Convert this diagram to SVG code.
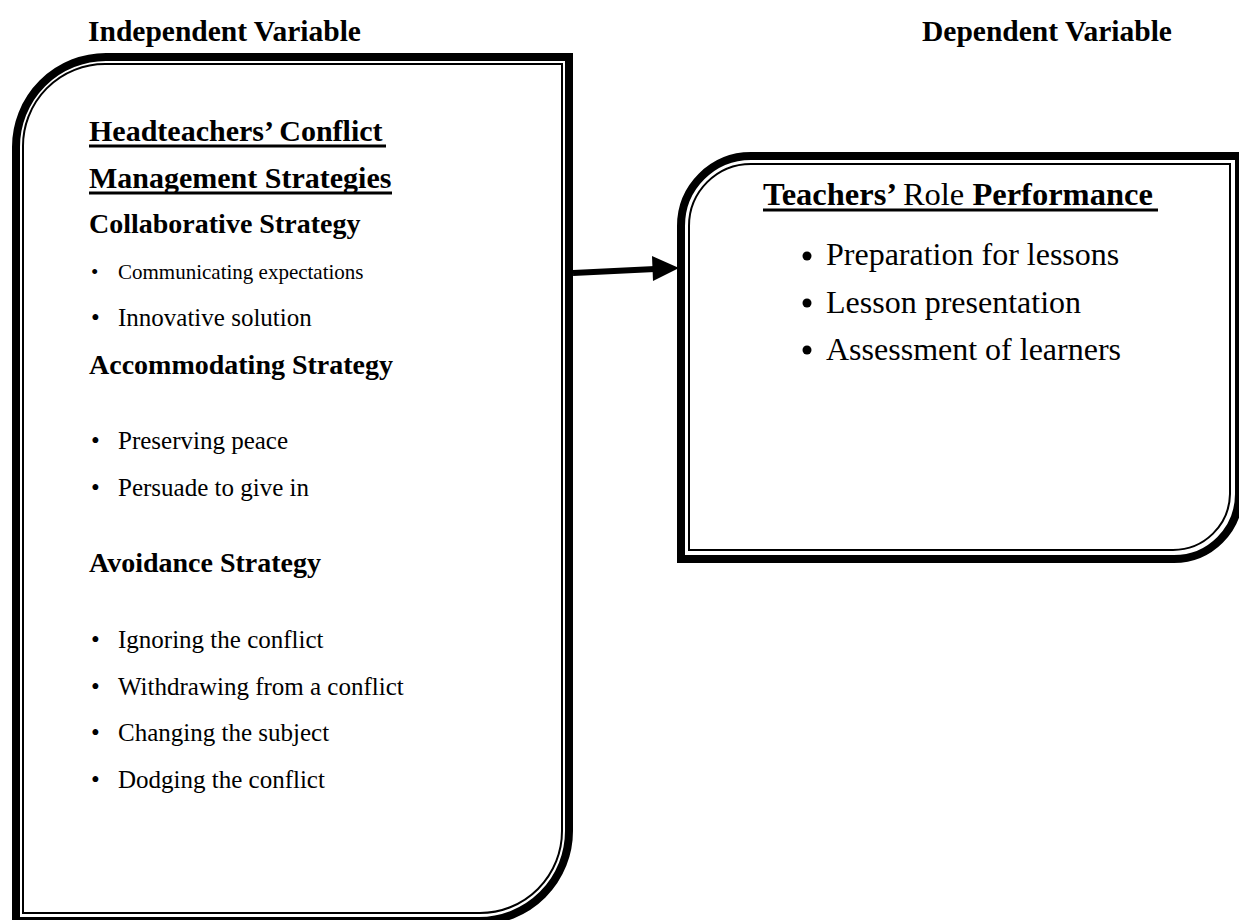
<svg xmlns="http://www.w3.org/2000/svg" width="1239" height="920" viewBox="0 0 1239 920">
  <style>
    text { font-family: "Liberation Serif", "Times New Roman", serif; fill: #000; }
    .title { font-size: 29.5px; font-weight: bold; }
    .head { font-size: 30px; font-weight: bold; }
    .sub { font-size: 28px; font-weight: bold; }
    .item { font-size: 25px; }
    .small { font-size: 21px; }
    .rhead { font-size: 32.5px; font-weight: bold; }
    .ritem { font-size: 32px; }
    .outer { fill: none; stroke: #000; stroke-width: 8; }
    .inner { fill: none; stroke: #000; stroke-width: 2; }
    .ul { stroke: #000; stroke-width: 3; }
    .conn { stroke: #000; stroke-width: 6; fill: none; }
  </style>

  <!-- column titles -->
  <text class="title" x="88" y="41">Independent Variable</text>
  <text class="title" x="922" y="41">Dependent Variable</text>

  <!-- independent variable box -->
  <g id="independent">
    <path class="outer" d="M16,147 A90,90 0 0 1 106,57 H569 V831 A90,90 0 0 1 479,921 H16 Z"/>
    <path class="inner" d="M23,147 A82,82 0 0 1 105,64 H562 V831 A82,82 0 0 1 480,913 H23 Z"/>
    <text class="head" x="89" y="141">Headteachers’ Conflict</text>
    <line class="ul" x1="89" y1="146" x2="386" y2="146"/>
    <text class="head" x="89" y="188">Management Strategies</text>
    <line class="ul" x1="89" y1="193" x2="392" y2="193"/>
    <text class="sub" x="89" y="233">Collaborative Strategy</text>
    <text class="small" x="91" y="279">•</text>
    <text class="small" x="118" y="279">Communicating expectations</text>
    <text class="item" x="91" y="326">•</text>
    <text class="item" x="118" y="326">Innovative solution</text>
    <text class="sub" x="89" y="374">Accommodating Strategy</text>
    <text class="item" x="91" y="449">•</text>
    <text class="item" x="118" y="449">Preserving peace</text>
    <text class="item" x="91" y="496">•</text>
    <text class="item" x="118" y="496">Persuade to give in</text>
    <text class="sub" x="89" y="572">Avoidance Strategy</text>
    <text class="item" x="91" y="648">•</text>
    <text class="item" x="118" y="648">Ignoring the conflict</text>
    <text class="item" x="91" y="695">•</text>
    <text class="item" x="118" y="695">Withdrawing from a conflict</text>
    <text class="item" x="91" y="741">•</text>
    <text class="item" x="118" y="741">Changing the subject</text>
    <text class="item" x="91" y="788">•</text>
    <text class="item" x="118" y="788">Dodging the conflict</text>
  </g>

  <!-- dependent variable box -->
  <g id="dependent">
    <path class="outer" d="M681,226 A70,70 0 0 1 751,156 H1239 V494 A65,65 0 0 1 1174,559 H681 Z"/>
    <path class="inner" d="M689,226 A62,62 0 0 1 751,164 H1230 V494 A57,57 0 0 1 1173,550 H689 Z"/>
    <text class="rhead" x="763" y="205">Teachers’ <tspan font-weight="normal">Role</tspan> Performance</text>
    <line class="ul" x1="763" y1="210" x2="1158" y2="210"/>
    <circle cx="807" cy="256" r="4.5"/>
    <text class="ritem" x="826" y="265">Preparation for lessons</text>
    <circle cx="807" cy="303" r="4.5"/>
    <text class="ritem" x="826" y="313">Lesson presentation</text>
    <circle cx="807" cy="350" r="4.5"/>
    <text class="ritem" x="826" y="360">Assessment of learners</text>
  </g>

  <!-- connector -->
  <g id="connectors">
    <line class="conn" x1="573" y1="273" x2="655" y2="269"/>
    <polygon points="679,268 652,256 653,281"/>
  </g>
</svg>
